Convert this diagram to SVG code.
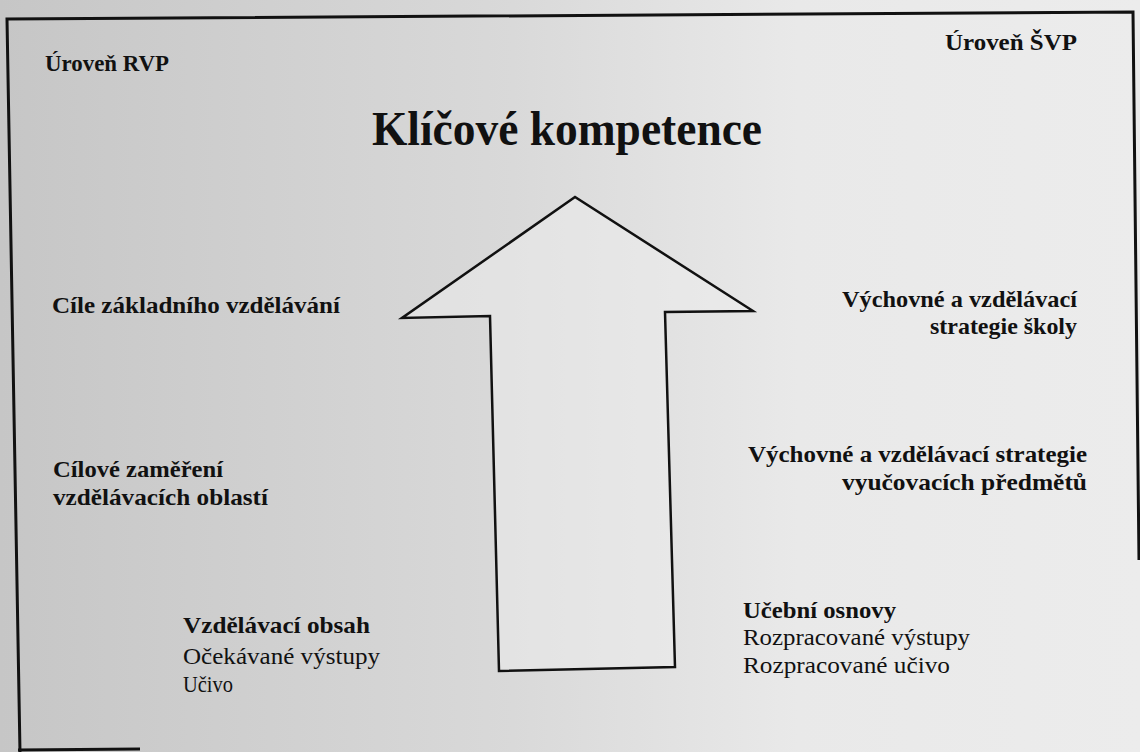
<svg xmlns="http://www.w3.org/2000/svg" width="1140" height="752" viewBox="0 0 1140 752">
<defs>
<linearGradient id="bg" x1="0" y1="0" x2="1" y2="0">
<stop offset="0" stop-color="#c6c6c6"/>
<stop offset="0.45" stop-color="#d9d9d9"/>
<stop offset="0.7" stop-color="#e9e9e9"/>
<stop offset="1" stop-color="#ececec"/>
</linearGradient>
<style>
.t{font-family:"Liberation Serif","Times New Roman",serif;fill:#111;}
.b{font-weight:bold;}
.s{font-size:23px;}
.h{font-size:24px;}
</style>
</defs>
<rect x="0" y="0" width="1140" height="752" fill="url(#bg)"/>
<path d="M20 752 L7 19 L1133 12 L1139 560" fill="none" stroke="#111" stroke-width="3"/>
<path d="M18 750 L140 749" fill="none" stroke="#111" stroke-width="3"/>
<g id="arrow">
<polygon points="575,197 402,318 490,316 499,671 675,667 665,312 753,311" fill="#ededed" fill-opacity="0.5" stroke="#111" stroke-width="2.5" stroke-linejoin="miter"/>
</g>
<g id="title"><text class="t b" x="372" y="145" font-size="48" textLength="390" lengthAdjust="spacingAndGlyphs">Klíčové kompetence</text></g>
<g id="rvp"><text class="t b s" x="45" y="71" textLength="124" lengthAdjust="spacingAndGlyphs">Úroveň RVP</text></g>
<g id="svp"><text class="t b s" x="945" y="50" textLength="132" lengthAdjust="spacingAndGlyphs">Úroveň ŠVP</text></g>
<g id="cile"><text class="t b s" x="52" y="313" textLength="288" lengthAdjust="spacingAndGlyphs">Cíle základního vzdělávání</text></g>
<g id="strategie-skoly">
<text class="t b h" x="1077" y="307" text-anchor="end" textLength="235" lengthAdjust="spacingAndGlyphs">Výchovné a vzdělávací</text>
<text class="t b h" x="1077" y="334" text-anchor="end" textLength="147" lengthAdjust="spacingAndGlyphs">strategie školy</text>
</g>
<g id="zamereni">
<text class="t b s" x="53" y="477" textLength="170" lengthAdjust="spacingAndGlyphs">Cílové zaměření</text>
<text class="t b s" x="53" y="505" textLength="215" lengthAdjust="spacingAndGlyphs">vzdělávacích oblastí</text>
</g>
<g id="strategie-predmetu">
<text class="t b h" x="1087" y="462" text-anchor="end" textLength="339" lengthAdjust="spacingAndGlyphs">Výchovné a vzdělávací strategie</text>
<text class="t b h" x="1087" y="490" text-anchor="end" textLength="245" lengthAdjust="spacingAndGlyphs">vyučovacích předmětů</text>
</g>
<g id="obsah">
<text class="t b s" x="183" y="633" textLength="187" lengthAdjust="spacingAndGlyphs">Vzdělávací obsah</text>
<text class="t s" x="183" y="664" textLength="197" lengthAdjust="spacingAndGlyphs">Očekávané výstupy</text>
<text class="t s" x="183" y="692" textLength="50" lengthAdjust="spacingAndGlyphs">Učivo</text>
</g>
<g id="osnovy">
<text class="t b s" x="743" y="618" textLength="153" lengthAdjust="spacingAndGlyphs">Učební osnovy</text>
<text class="t s" x="743" y="645" textLength="227" lengthAdjust="spacingAndGlyphs">Rozpracované výstupy</text>
<text class="t s" x="743" y="673" textLength="207" lengthAdjust="spacingAndGlyphs">Rozpracované učivo</text>
</g>
<g id="connectors"></g>
</svg>
